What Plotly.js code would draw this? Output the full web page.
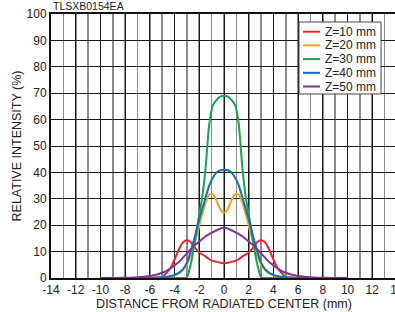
<!DOCTYPE html>
<html>
<head>
<meta charset="utf-8">
<script src="https://cdn.plot.ly/plotly-3.0.1.min.js"></script>
<style>
html,body{margin:0;padding:0;overflow:hidden;background:#fff;}
#chart{width:400px;height:312px;}
</style>
</head>
<body>
<div id="chart"></div>
<script>
// Distance from radiated center (mm)
const distance = [-10,-8,-7,-6,-5.5,-5,-4.6,-4.3,-4,-3.6,-3.3,-3,-2.7,-2.4,-2.1,-1.8,-1.5,-1.2,-0.9,-0.6,-0.3,0,
                  0.3,0.6,0.9,1.2,1.5,1.8,2.1,2.4,2.7,3,3.3,3.6,4,4.3,4.6,5,5.5,6,7,8,10];

const seriesNames = ["Z=10 mm","Z=20 mm","Z=30 mm","Z=40 mm","Z=50 mm"];
const seriesColors = ["#e8262d","#f7a21c","#12a64f","#116fbe","#83309a"];

// Relative intensity (%)
const z10 = [0,0,0,0,0.05,0.3,2.2,4,7,11.3,13.6,14.3,13.6,11.8,10,9,8.2,7.1,6.5,6.1,5.8,5.7,
             5.8,6.1,6.5,7.1,8.2,9,10,11.8,13.6,14.3,13.6,11.3,7,4,2.2,0.3,0.05,0,0,0,0];
const z20 = [0,0,0,0.05,0.1,0.2,0.4,0.7,1.0,1.8,3.2,5,8.5,13,18,23.5,28.3,31.5,31.8,29.3,26,24.7,
             26,29.3,31.8,31.5,28.3,23.5,18,13,8.5,5,3.2,1.8,1.0,0.7,0.4,0.2,0.1,0.05,0,0,0];
const z30 = [0,0,0,0,0,0,0,0,0,0,0,0.3,5,12.5,21.5,29.5,41,58,65.5,67.5,68.7,69,
             68.7,67.5,65.5,58,41,29.5,21.5,12.5,5,0.3,0,0,0,0,0,0,0,0,0,0,0];
const z40 = [0,0,0,0.05,0.15,0.3,0.5,0.8,1.2,2.2,3.5,5.8,10,15,20.5,25.5,30.3,35,38,40,40.8,41,
             40.8,40,38,35,30.3,25.5,20.5,15,10,5.8,3.5,2.2,1.2,0.8,0.5,0.3,0.15,0.05,0,0,0];
const z50 = [0,0.1,0.3,0.8,1.2,2.0,2.8,3.8,4.8,6.3,7.8,9.3,10.8,12.2,13.4,14.6,15.7,16.6,17.4,18.1,18.7,19,
             18.7,18.1,17.4,16.6,15.7,14.6,13.4,12.2,10.8,9.3,7.8,6.3,4.8,3.8,2.8,2.0,1.2,0.8,0.3,0.1,0];

const xTickVals = [-14,-12,-10,-8,-6,-4,-2,0,2,4,6,8,10,12,14];
const xTickText = ["-14","-12","-10","-8","-6","-4","-2","0","2","4","6","8","10","12","14"];

const seriesValues = [z10,z20,z30,z40,z50];

const traces = seriesValues.map((v,i)=>({
  x: distance, y: v, type:'scatter', mode:'lines', name: seriesNames[i],
  line:{color: seriesColors[i], width:2, shape:'spline', smoothing:0.6},
  showlegend:false
}));

// plot area in pixels
const L=51, R=397, T=14, B=278;
const px = v => (v-L)/(R-L);
const py = v => (B-v)/(B-T);

const shapes = [{type:'rect', xref:'paper', yref:'paper', x0:px(299), x1:px(381), y0:py(94), y1:py(22),
  line:{color:'#444', width:1}, fillcolor:'#fff', layer:'above'}];
const annotations = [{xref:'paper', yref:'paper', x:px(51), y:py(6), xanchor:'left', yanchor:'middle',
  text:'TLSXB0154EA', showarrow:false, font:{family:'Liberation Sans, Arial', size:10.5, color:'#222'}}];
seriesNames.forEach((n,i)=>{
  const cy = 31.7 + i*13.7;
  shapes.push({type:'line', xref:'paper', yref:'paper', x0:px(303), x1:px(320), y0:py(cy), y1:py(cy),
    line:{color:seriesColors[i], width:2}, layer:'above'});
  annotations.push({xref:'paper', yref:'paper', x:px(323), y:py(cy), xanchor:'left', yanchor:'middle',
    text:n, showarrow:false, font:{family:'Liberation Sans, Arial', size:12, color:'#222'}});
});

const layout = {
  width:400, height:312,
  margin:{l:L, r:400-R, t:T, b:312-B, pad:0},
  paper_bgcolor:'#fff', plot_bgcolor:'#fff',
  font:{family:'Liberation Sans, Arial, sans-serif', color:'#222'},
  xaxis:{
    range:[-14,14], tickmode:'array', tickvals:xTickVals, ticktext:xTickText,
    showgrid:true, gridcolor:'#1a1a1a', gridwidth:1,
    minor:{dtick:1, tick0:0, showgrid:true, gridcolor:'#8c8c8c', gridwidth:1.6},
    showline:true, linecolor:'#111', linewidth:2, mirror:true, zeroline:false,
    ticks:'', tickfont:{size:12, color:'#222'}, ticklabeloverflow:'allow',
    title:{text:'DISTANCE FROM RADIATED CENTER (mm)', font:{size:12.5, color:'#222'}, standoff:3}
  },
  yaxis:{
    range:[0,100], dtick:10, showgrid:true, gridcolor:'#1a1a1a', gridwidth:1,
    showline:true, linecolor:'#111', linewidth:2, zeroline:false,
    ticks:'', tickfont:{size:12, color:'#222'},
    title:{text:'RELATIVE INTENSITY (%)', font:{size:12.5, color:'#222'}, standoff:2}
  },
  shapes: shapes,
  annotations: annotations,
  showlegend:false
};

Plotly.newPlot('chart', traces, layout, {displayModeBar:false, staticPlot:true});
</script>
</body>
</html>
